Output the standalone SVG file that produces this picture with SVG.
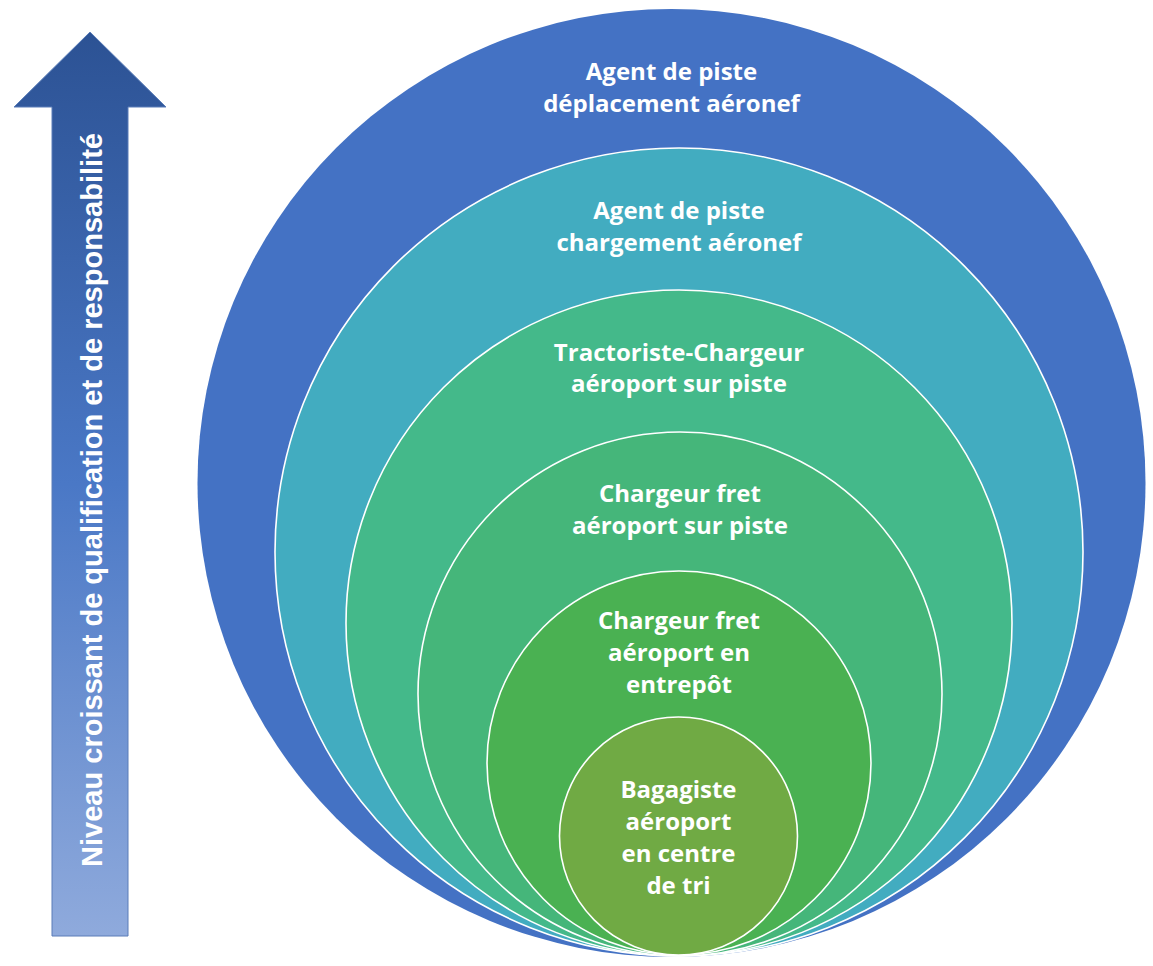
<svg xmlns="http://www.w3.org/2000/svg" width="1153" height="966" viewBox="0 0 1153 966">
  <style>
    .ring { stroke: #ffffff; stroke-width: 1.6; }
    .lbl { font-family: "Open Sans", "Noto Sans", "Liberation Sans", sans-serif; font-weight: 700; font-size: 24px; fill: #ffffff; text-anchor: middle; }
    .axis { font-family: "Liberation Sans", Arial, sans-serif; font-weight: 700; font-size: 29px; fill: #ffffff; text-anchor: middle; }
  </style>
  <defs>
    <linearGradient id="arrowGrad" x1="0" y1="0" x2="0" y2="1">
      <stop offset="0" stop-color="#2C5294"/>
      <stop offset="0.5" stop-color="#4A78C6"/>
      <stop offset="1" stop-color="#8FAADC"/>
    </linearGradient>
  </defs>
  <rect width="1153" height="966" fill="#ffffff"/>

  <g id="axis-arrow">
    <polygon points="90,32 166,107 128,107 128,936 52,936 52,107 14,107" fill="url(#arrowGrad)" stroke="#5A7DB8" stroke-width="1"/>
    <text class="axis" transform="translate(102,500) rotate(-90)" textLength="734" lengthAdjust="spacingAndGlyphs">Niveau croissant de qualification et de responsabilité</text>
  </g>

  <g id="level-1">
    <circle cx="671.5" cy="483" r="474" fill="#4472C4"/>
    <text class="lbl" x="671.5" y="80">Agent de piste</text>
    <text class="lbl" x="671.5" y="112">déplacement aéronef</text>
  </g>
  <g id="level-2">
    <circle class="ring" cx="679" cy="552" r="404" fill="#42ACC0"/>
    <text class="lbl" x="679" y="219">Agent de piste</text>
    <text class="lbl" x="679" y="251">chargement aéronef</text>
  </g>
  <g id="level-3">
    <circle class="ring" cx="679" cy="623" r="333" fill="#44B98A"/>
    <text class="lbl" x="679" y="361">Tractoriste-Chargeur</text>
    <text class="lbl" x="679" y="392">aéroport sur piste</text>
  </g>
  <g id="level-4">
    <circle class="ring" cx="680" cy="694" r="262" fill="#45B67A"/>
    <text class="lbl" x="680" y="502">Chargeur fret</text>
    <text class="lbl" x="680" y="534">aéroport sur piste</text>
  </g>
  <g id="level-5">
    <circle class="ring" cx="679" cy="763" r="192" fill="#4AB152"/>
    <text class="lbl" x="679" y="629">Chargeur fret</text>
    <text class="lbl" x="679" y="661">aéroport en</text>
    <text class="lbl" x="679" y="693">entrepôt</text>
  </g>
  <g id="level-6">
    <circle class="ring" cx="678.5" cy="836" r="119" fill="#70AA44"/>
    <text class="lbl" x="678.5" y="798">Bagagiste</text>
    <text class="lbl" x="678.5" y="830">aéroport</text>
    <text class="lbl" x="678.5" y="862">en centre</text>
    <text class="lbl" x="678.5" y="894">de tri</text>
  </g>
</svg>
